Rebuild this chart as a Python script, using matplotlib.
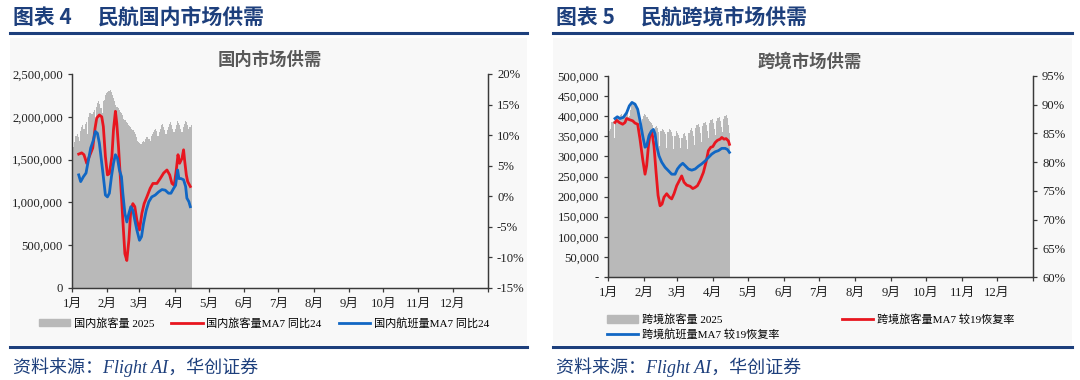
import matplotlib
matplotlib.use('Agg')
import matplotlib.pyplot as plt
from matplotlib.lines import Line2D
from matplotlib.patches import Rectangle, Patch
from matplotlib.ticker import FuncFormatter

plt.rcParams['font.family'] = ['Liberation Serif', 'Noto Sans CJK SC']
plt.rcParams['axes.unicode_minus'] = False

# x axis = day of year (0 = Jan 1)
month_start = [0, 31, 59, 90, 120, 151, 181, 212, 243, 273, 304, 334, 365]
month_labels = ['1月', '2月', '3月', '4月', '5月', '6月', '7月', '8月', '9月', '10月', '11月', '12月', '']

# ---- domestic ----
# daily domestic passengers 2025 (10k people), Jan 1 onward
dom_pax = [163, 165, 170, 178, 180, 176, 172,
           183, 188, 190, 186, 192, 194, 180,
           200, 204, 205, 203, 206, 208, 196,
           212, 216, 218, 215, 210, 205, 218,
           220, 225, 228, 229, 230, 231, 229,
           226, 222, 218, 214, 212, 210, 208,
           206, 204, 202, 198, 196, 194, 193,
           190, 189, 188, 186, 184, 182, 180,
           176, 172, 170, 169, 168, 170, 172,
           171, 174, 176, 176, 174, 172, 178,
           180, 182, 185, 186, 183, 178, 182,
           186, 190, 192, 188, 185, 180, 184,
           188, 192, 194, 190, 186, 182, 186,
           190, 195, 193, 190, 186, 182, 188,
           192, 195, 194, 190, 186, 188, 190]

dom_pax_days = [5.9, 8.5, 10.5, 12.9, 15.2, 18.2, 20.2, 21.7, 24.0, 26.1,
                27.5, 29.3, 31.1, 32.8, 35.0, 36.4, 38.1, 39.3, 40.8, 42.9,
                44.6, 46.4, 48.1, 49.9, 51.6, 53.4, 55.1, 56.9, 59.2, 61.3,
                63.3, 65.7, 68.6, 71.0, 74.5, 77.4, 80.4, 83.3, 85.7, 87.7,
                89.7, 91.5, 93.0, 94.4, 96.5, 97.9, 98.8, 100.3, 101.5, 103.8]
dom_pax_yoy = [6.9, 7.1, 6.8, 5.4, 6.5, 7.9, 11.1, 12.8, 13.3, 13.0,
               11.4, 6.5, 3.5, 3.7, 6.5, 10.9, 13.9, 11.9, 8.1, 1.6,
               -3.9, -9.4, -10.5, -7.2, -2.3, -1.2, -1.7, -3.9, -5.5, -2.8,
               -1.2, -0.1, 1.3, 2.1, 2.1, 2.9, 3.8, 4.3, 3.5, 2.1,
               1.8, 4.3, 6.8, 5.4, 6.2, 7.6, 5.9, 3.5, 2.4, 1.6]

dom_flt_days = [5.9, 7.6, 10.0, 12.3, 14.4, 16.4, 18.8, 20.5, 22.3, 24.0,
                25.8, 27.5, 29.3, 31.1, 32.8, 34.6, 36.4, 38.1, 39.9, 41.6,
                43.4, 44.6, 46.4, 48.1, 49.9, 51.6, 53.4, 55.1, 56.9, 59.2,
                61.0, 62.7, 65.1, 67.4, 70.0, 73.0, 75.9, 78.9, 81.8, 84.7,
                86.8, 89.2, 90.9, 92.7, 93.8, 95.6, 97.9, 99.7, 100.8, 102.6, 103.8]
dom_flt_yoy = [3.5, 2.4, 3.2, 3.8, 5.9, 7.9, 9.2, 10.6, 10.3, 8.7,
               5.9, 3.2, 0.2, -0.1, 0.5, 3.2, 5.4, 6.8, 6.2, 4.3,
               3.2, 0.5, -2.8, -4.2, -2.8, -1.7, -2.3, -3.9, -5.5, -7.2,
               -6.6, -4.5, -2.3, -0.9, -0.1, 0.2, 0.7, 1.1, 1.0, 0.5,
               0.5, 1.3, 1.8, 4.3, 2.9, 2.9, 2.7, 1.6, -0.3, -0.9, -1.7]

# ---- cross-border ----
# daily cross-border passengers 2025 (thousand people)
intl_pax = [355, 362, 368, 385, 388, 345, 380,
            392, 396, 398, 402, 405, 400, 398,
            402, 405, 410, 398, 400, 415, 428,
            430, 428, 422, 418, 412, 398, 385,
            380, 392, 400, 405, 403, 398, 392,
            388, 386, 384, 378, 338, 372, 375,
            370, 360, 325, 362, 368, 366, 360,
            355, 322, 360, 368, 366, 360, 350,
            318, 350, 362, 358, 352, 345, 320,
            345, 355, 358, 350, 340, 318, 358,
            366, 370, 362, 350, 328, 370, 378,
            380, 372, 358, 336, 376, 384, 386,
            378, 362, 345, 382, 390, 392, 382,
            368, 352, 388, 396, 398, 388, 372,
            360, 392, 400, 402, 395, 378, 358]

intl_pax_days = [6.0, 7.4, 9.7, 12.6, 14.6, 16.0, 18.3, 21.2, 23.2, 25.5,
                 27.5, 29.8, 31.8, 33.2, 34.7, 36.1, 37.8, 39.5, 41.3, 43.0,
                 44.7, 46.4, 48.1, 50.4, 52.7, 54.7, 56.7, 59.0, 61.3, 63.3,
                 65.3, 67.6, 70.5, 72.8, 74.8, 76.8, 79.1, 81.9, 84.2, 86.2,
                 88.3, 90.0, 92.0, 94.0, 96.3, 97.7, 99.7, 101.4, 103.4, 104.3]
intl_pax_rec = [86.9, 87.3, 86.9, 86.6, 86.9, 87.6, 87.4, 87.2, 86.8, 86.6,
                84.0, 80.5, 77.9, 79.4, 82.8, 84.9, 85.2, 82.8, 78.2, 74.2,
                72.4, 72.7, 73.9, 74.5, 73.9, 73.6, 74.5, 75.9, 76.8, 77.6,
                76.5, 76.0, 75.8, 75.4, 75.6, 75.9, 76.8, 78.2, 80.0, 82.0,
                82.6, 82.7, 83.4, 83.8, 84.0, 84.3, 84.0, 84.1, 83.7, 83.1]

intl_flt_days = [6.0, 8.0, 10.3, 13.2, 16.0, 18.3, 20.6, 23.2, 25.5, 27.5,
                 29.8, 31.8, 33.2, 35.2, 37.2, 39.0, 40.4, 41.8, 43.8, 46.1,
                 49.0, 51.9, 54.7, 57.6, 59.6, 61.9, 64.2, 66.2, 69.1, 71.9,
                 74.8, 77.7, 80.5, 83.4, 86.2, 89.1, 92.0, 94.8, 97.7, 100.6,
                 102.6, 104.3]
intl_flt_rec = [87.6, 87.9, 87.6, 87.8, 88.6, 89.8, 90.4, 90.1, 89.2, 87.2,
                84.6, 82.6, 82.8, 84.6, 85.4, 85.7, 84.9, 82.8, 81.1, 80.0,
                79.1, 78.5, 77.9, 77.9, 78.8, 79.4, 79.8, 79.4, 78.8, 78.6,
                78.8, 79.3, 79.7, 80.2, 80.8, 81.4, 81.8, 82.0, 82.4, 82.4,
                82.2, 81.7]

W, H = 1080, 380
BAR = '#b9b9b9'
RED = '#e8161f'
BLUE = '#1167c4'
NAVY = '#1d3f7c'
AXC = '#3a3a3a'
CJK = ['Noto Sans CJK SC']

fig = plt.figure(figsize=(W / 100, H / 100), dpi=100)


def px(x, y):
    return x / W, 1 - y / H


# panel backgrounds, header & footer rules
for x0, x1 in [(10, 527), (553, 1072)]:
    fig.add_artist(Rectangle(px(x0, 345), (x1 - x0) / W, 307 / H,
                             transform=fig.transFigure, facecolor='#f8f8f8',
                             edgecolor='none', zorder=0))
    for y in (33, 347):
        a, b = px(x0, y)
        c, d = px(x1, y)
        fig.add_artist(Line2D([a, c], [b, d], transform=fig.transFigure,
                              color=NAVY, lw=2.2))

for x, num, name in [(13, '4', '民航国内市场供需'), (556, '5', '民航跨境市场供需')]:
    fig.text(*px(x, 17), '图表 ' + num, family=CJK, weight='bold',
             fontsize=15, color=NAVY, va='center')
    fig.text(*px(x + 85, 17), name, family=CJK, weight='bold',
             fontsize=15, color=NAVY, va='center')
    fig.text(*px(x, 367), '资料来源：Flight AI，华创证券', style='italic',
             fontsize=13, color=NAVY, va='center')


def style_axes(ax, ax2):
    for a in (ax, ax2):
        a.set_facecolor('none')
        a.spines['top'].set_visible(False)
        for s in ('left', 'right', 'bottom'):
            a.spines[s].set_color(AXC)
            a.spines[s].set_linewidth(0.9)
        a.tick_params(colors=AXC, labelcolor='#222222', labelsize=9.2,
                      length=3, width=0.9, direction='out')
    ax.set_xlim(0, 365)
    ax.set_xticks(month_start)
    ax.set_xticklabels(month_labels)
    ax.tick_params(axis='x', pad=4)


# ---- panel 1 ----
ax = fig.add_axes([72 / W, 1 - 288 / H, 416 / W, 214 / H])
ax2 = ax.twinx()
ax.bar([d + 0.5 for d in range(len(dom_pax))], [v * 10000 for v in dom_pax],
       width=1.0, color=BAR, linewidth=0)
ax2.plot(dom_pax_days, dom_pax_yoy, color=RED, lw=2)
ax2.plot(dom_flt_days, dom_flt_yoy, color=BLUE, lw=2)
ax.set_ylim(0, 2500000)
ax.set_yticks(range(0, 2500001, 500000))
ax.yaxis.set_major_formatter(FuncFormatter(lambda v, p: f'{v:,.0f}'))
ax2.set_ylim(-15, 20)
ax2.set_yticks(range(-15, 21, 5))
ax2.yaxis.set_major_formatter(FuncFormatter(lambda v, p: f'{v:.0f}%'))
style_axes(ax, ax2)
fig.text(*px(270, 60), '国内市场供需', family=CJK, weight='bold',
         fontsize=12.5, color='#595959', ha='center', va='center')
handles = [Patch(color=BAR), Line2D([], [], color=RED, lw=2),
           Line2D([], [], color=BLUE, lw=2)]
fig.legend(handles, ['国内旅客量 2025', '国内旅客量MA7 同比24', '国内航班量MA7 同比24'],
           loc='center', bbox_to_anchor=px(264, 323), ncol=3, frameon=False,
           fontsize=8, handlelength=2.8, handleheight=0.7, columnspacing=1.55,
           handletextpad=0.35)

# ---- panel 2 ----
bx = fig.add_axes([608 / W, 1 - 277 / H, 425 / W, 201 / H])
bx2 = bx.twinx()
bx.bar([d + 0.5 for d in range(len(intl_pax))], [v * 1000 for v in intl_pax],
       width=1.0, color=BAR, linewidth=0)
bx2.plot(intl_pax_days, intl_pax_rec, color=RED, lw=2)
bx2.plot(intl_flt_days, intl_flt_rec, color=BLUE, lw=2)
bx.set_ylim(0, 500000)
bx.set_yticks(range(0, 500001, 50000))
bx.yaxis.set_major_formatter(FuncFormatter(lambda v, p: '-' if v == 0 else f'{v:,.0f}'))
bx2.set_ylim(60, 95)
bx2.set_yticks(range(60, 96, 5))
bx2.yaxis.set_major_formatter(FuncFormatter(lambda v, p: f'{v:.0f}%'))
style_axes(bx, bx2)
fig.text(*px(810, 62), '跨境市场供需', family=CJK, weight='bold',
         fontsize=12.5, color='#595959', ha='center', va='center')
handles = [Patch(color=BAR), Line2D([], [], color=BLUE, lw=2),
           Line2D([], [], color=RED, lw=2)]
fig.legend(handles, ['跨境旅客量 2025', '跨境航班量MA7 较19恢复率', '跨境旅客量MA7 较19恢复率'],
           loc='upper left', bbox_to_anchor=px(597, 304), ncol=2, frameon=False,
           fontsize=8, handlelength=2.8, handleheight=0.7, columnspacing=5.6,
           handletextpad=0.35, labelspacing=0.35)

fig.savefig('out.png', dpi=100, facecolor='white')
